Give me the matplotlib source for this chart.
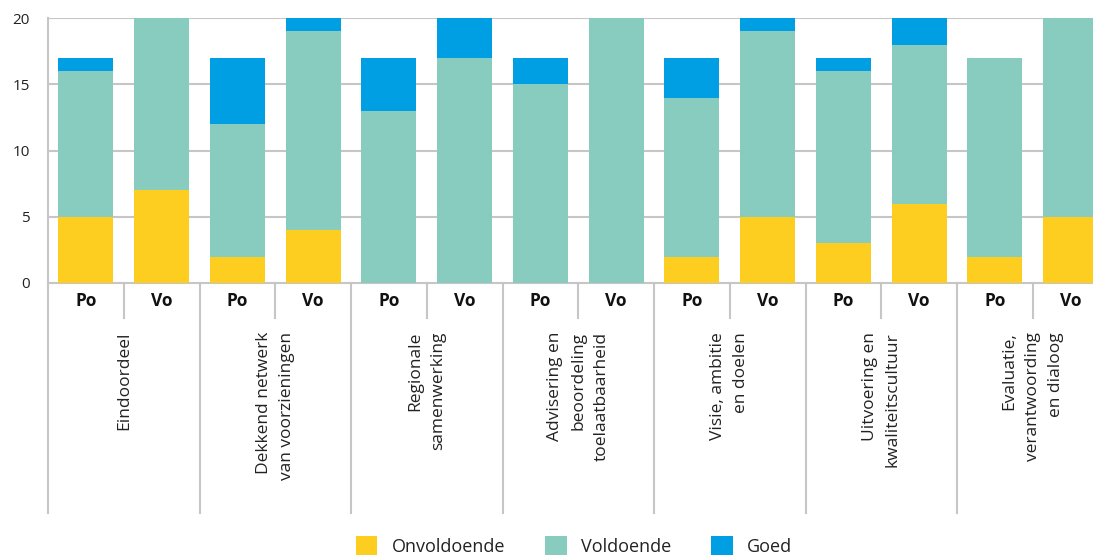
import matplotlib
matplotlib.use("Agg")
import matplotlib.pyplot as plt
from matplotlib.patches import Patch
import numpy as np

plt.rcParams['font.family'] = ['Open Sans', 'DejaVu Sans']

categories = ["Eindoordeel", "Dekkend netwerk\nvan voorzieningen", "Regionale\nsamenwerking",
              "Advisering en\nbeoordeling\ntoelaatbaarheid", "Visie, ambitie\nen doelen",
              "Uitvoering en\nkwaliteitscultuur", "Evaluatie,\nverantwoording\nen dialoog"]
sublabels = ["Po", "Vo"]
series_names = ["Onvoldoende", "Voldoende", "Goed"]
# order: cat1 Po, cat1 Vo, cat2 Po, ...
onvoldoende = [5, 7, 2, 4, 0, 0, 0, 0, 2, 5, 3, 6, 2, 5]
voldoende   = [11, 13, 10, 15, 13, 17, 15, 20, 12, 14, 13, 12, 15, 15]
goed        = [1, 0, 5, 1, 4, 3, 2, 0, 3, 1, 1, 2, 0, 0]
yticks = [0, 5, 10, 15, 20]

colors = ["#FDCE1F", "#88CBBF", "#009FE3"]
grid_c = "#c6c6c6"

W, H = 1093, 555
fig = plt.figure(figsize=(W / 100, H / 100), dpi=100)
ax_left, ax_right = 48, 48 + 14 * 75.75
ax_top, ax_bot = 18, 283
ax = fig.add_axes([ax_left / W, 1 - ax_bot / H, (ax_right - ax_left) / W, (ax_bot - ax_top) / H])

x = np.arange(len(onvoldoende))
bw = 0.726
bottom = np.zeros(len(x))
for vals, c, name in zip([onvoldoende, voldoende, goed], colors, series_names):
    ax.bar(x, vals, bw, bottom=bottom, color=c, label=name, zorder=3, linewidth=0)
    bottom += np.array(vals)

ax.set_xlim(-0.5, len(x) - 0.5)
ax.set_ylim(0, 20)
ax.set_yticks(yticks)
ax.set_yticklabels([str(t) for t in yticks], fontsize=11, color="#222222")
ax.tick_params(axis='y', length=0, pad=13)
ax.set_xticks([])
for yv in yticks[1:]:
    ax.axhline(yv, color=grid_c, lw=1.5, zorder=1)
for s in ["top", "right"]:
    ax.spines[s].set_visible(False)
ax.spines["left"].set_color(grid_c)
ax.spines["left"].set_linewidth(1.5)
ax.spines["bottom"].set_color(grid_c)
ax.spines["bottom"].set_linewidth(1.5)

trans = ax.get_xaxis_transform()
axh = ax_bot - ax_top
long_y = -(513 - ax_bot) / axh
short_y = -(318 - ax_bot) / axh
for g in range(len(categories) + 1):
    xs = 2 * g - 0.5
    ax.plot([xs, xs], [0, long_y], transform=trans, color=grid_c, lw=1.5, clip_on=False)
for g in range(len(categories)):
    xs = 2 * g + 0.5
    ax.plot([xs, xs], [0, short_y], transform=trans, color=grid_c, lw=1.5, clip_on=False)

for i in x:
    ax.text(i, -(301 - ax_bot) / axh, sublabels[i % 2], transform=trans, ha='center', va='center',
            fontsize=12.5, fontweight='bold', color="#111111")

for g, cat in enumerate(categories):
    ax.text(2 * g + 0.5, -(332 - ax_bot) / axh, cat, transform=trans, rotation=90,
            ha='center', va='top', multialignment='right', fontsize=12.5, color="#222222",
            linespacing=1.6)

handles = [Patch(facecolor=c, edgecolor='none') for c in colors]
fig.legend(handles, series_names, loc='center', bbox_to_anchor=(574 / W, 1 - 546 / H), ncol=3,
           frameon=False, fontsize=13, handlelength=1.2, handleheight=1.2,
           columnspacing=2.2, handletextpad=0.8, labelcolor="#222222",
           borderpad=0, borderaxespad=0)

fig.savefig("out.png", dpi=100)
